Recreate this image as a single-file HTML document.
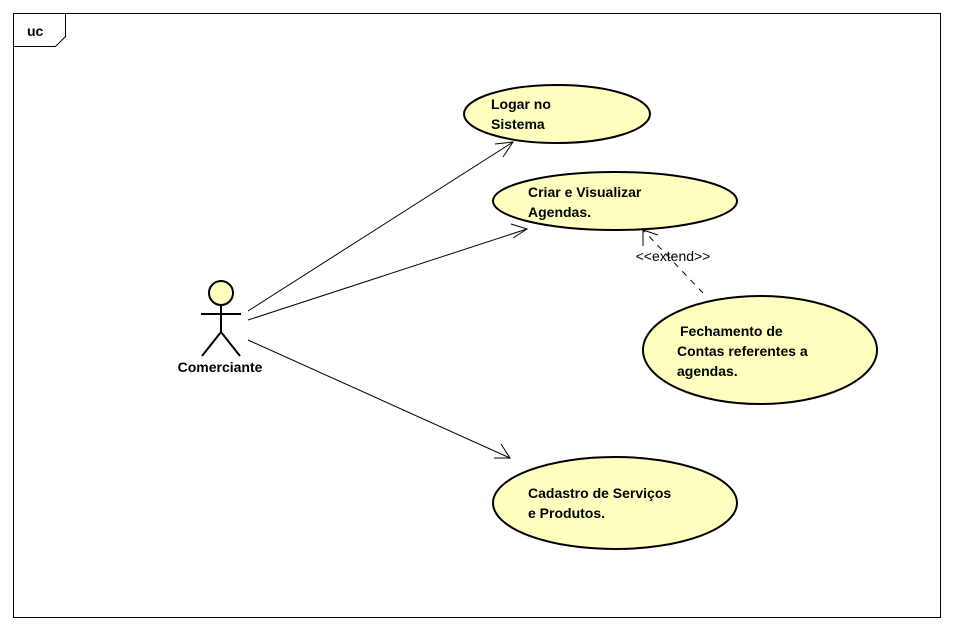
<!DOCTYPE html>
<html><head><meta charset="utf-8"><style>
html,body{margin:0;padding:0;background:#fff;}
svg{display:block;}
text{font-family:"Liberation Sans",Arial,sans-serif;}
.b{font-weight:bold;font-size:14px;fill:#000;}
</style></head><body>
<svg width="954" height="630" viewBox="0 0 954 630" xmlns="http://www.w3.org/2000/svg">
<rect x="0" y="0" width="954" height="630" fill="#fff"/>
<rect x="13.5" y="13.5" width="927" height="604" fill="none" stroke="#000" stroke-width="1"/>
<polyline points="13.5,46.5 55.5,46.5 65.5,36.5 65.5,13.5" fill="none" stroke="#000"/>
<text x="27" y="36" class="b">uc</text>

<g stroke="#000" stroke-width="2" fill="none">
<circle cx="221" cy="293" r="12" fill="#ffffc0"/>
<line x1="221" y1="305" x2="221" y2="332"/>
<line x1="201" y1="314" x2="241" y2="314"/>
<line x1="221" y1="332" x2="202" y2="356"/>
<line x1="221" y1="332" x2="240" y2="356"/>
</g>
<text x="220" y="372" class="b" text-anchor="middle">Comerciante</text>

<g stroke="#000" stroke-width="1" fill="none">
<line x1="248" y1="311" x2="513" y2="142"/>
<polyline points="495,144 513,142 503,157"/>
<line x1="248" y1="320" x2="527" y2="229"/>
<polyline points="511,224 527,229 513,238"/>
<line x1="248" y1="340" x2="510" y2="458"/>
<polyline points="501,444 510,458 494,458"/>
<line x1="703" y1="293" x2="643" y2="230" stroke-dasharray="6,6"/>
<polyline points="643,246 643,230 658,235"/>
</g>
<text x="673" y="261" font-size="14" text-anchor="middle" fill="#000">&lt;&lt;extend&gt;&gt;</text>

<g fill="#ffffc0" stroke="#000" stroke-width="2">
<ellipse cx="557" cy="114" rx="93" ry="29"/>
<ellipse cx="615" cy="201" rx="122" ry="29"/>
<ellipse cx="760" cy="350" rx="117" ry="54"/>
<ellipse cx="615" cy="503" rx="122" ry="46"/>
</g>
<text x="491" y="109" class="b">Logar no</text>
<text x="491" y="129" class="b">Sistema</text>
<text x="528" y="197" class="b">Criar e Visualizar</text>
<text x="528" y="217" class="b">Agendas.</text>
<text x="680" y="336" class="b">Fechamento de</text>
<text x="677" y="356" class="b">Contas referentes a</text>
<text x="677" y="376" class="b">agendas.</text>
<text x="528" y="498" class="b">Cadastro de Serviços</text>
<text x="528" y="518" class="b">e Produtos.</text>
</svg>
</body></html>
